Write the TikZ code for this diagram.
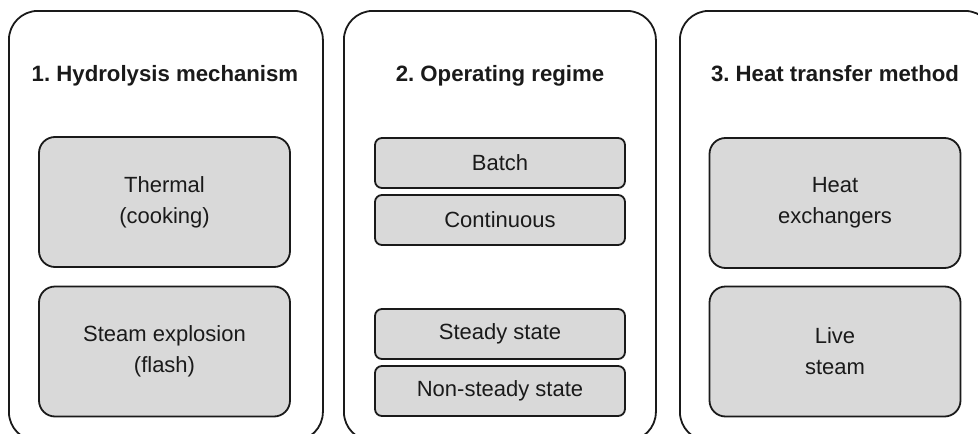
\documentclass[tikz,border=0pt]{standalone}
\usepackage{fontspec}
\setmainfont{Liberation Sans}
\frenchspacing
\definecolor{ink}{HTML}{1A1A1A}
\definecolor{boxfill}{HTML}{D9D9D9}
\begin{document}
\begin{tikzpicture}[x=1pt,y=-1pt,
  panel/.style={draw=ink,line width=1.8pt,rounded corners=29pt,minimum width=314pt,minimum height=430pt,inner sep=0pt,anchor=north west},
  title/.style={font=\fontsize{22.2}{26}\selectfont\bfseries,text=ink,anchor=base},
  bigbox/.style={draw=ink,fill=boxfill,line width=1.8pt,rounded corners=16pt,minimum width=251pt,minimum height=130pt,inner sep=0pt,align=center,font=\fontsize{22}{31}\selectfont,text=ink},
  smallbox/.style={draw=ink,fill=boxfill,line width=1.8pt,rounded corners=7pt,minimum width=250pt,minimum height=50pt,inner sep=0pt,align=center,font=\fontsize{22}{26}\selectfont,text=ink}]
\useasboundingbox (0,0) rectangle (978,434);
\clip (0,0) rectangle (978,434);
\node[panel] (p1) at (8,10) {};
\node[panel,minimum width=312pt] (p2) at (343,10) {};
\node[panel] (p3) at (679,10) {};
\node[title] (t1) at (165,81) {1. Hydrolysis mechanism};
\node[title] (t2) at (500,81) {2. Operating regime};
\node[title] (t3) at (835,81) {3. Heat transfer method};
\node[bigbox] (thermal) at (164.5,202) {Thermal\\(cooking)};
\node[bigbox] (steam) at (164.5,351.5) {Steam explosion\\(flash)};
\node[smallbox] (batch) at (500,163) {Batch};
\node[smallbox] (cont) at (500,220) {Continuous};
\node[smallbox] (steady) at (500,334) {Steady state};
\node[smallbox] (nonsteady) at (500,391) {Non-steady state};
\node[bigbox] (hx) at (835,203) {Heat\\exchangers};
\node[bigbox] (live) at (835,351.5) {Live\\steam};
\end{tikzpicture}
\end{document}
